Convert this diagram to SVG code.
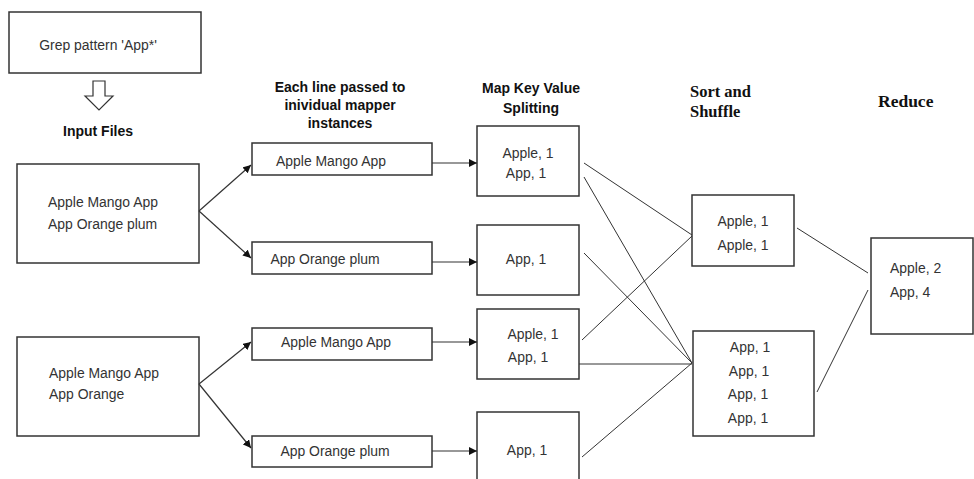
<svg xmlns="http://www.w3.org/2000/svg" width="974" height="479" viewBox="0 0 974 479">
<style>
.box{fill:#fff;stroke:#333;stroke-width:1.5}
.t{font-family:"Liberation Sans",Arial,sans-serif;font-size:15px;fill:#333}
.h{font-family:"Liberation Sans",Arial,sans-serif;font-size:14px;font-weight:bold;fill:#111;text-anchor:middle}
.s{font-family:"Liberation Serif","Times New Roman",serif;font-weight:bold;fill:#111}
.c{text-anchor:middle}
.ln{stroke:#333;stroke-width:1;fill:none}
.ar{stroke:#333;stroke-width:1.2;fill:none;marker-end:url(#ah)}
</style>
<defs>
<marker id="ah" viewBox="0 0 10 10" refX="10" refY="5" markerWidth="8" markerHeight="8" markerUnits="userSpaceOnUse" orient="auto">
<path d="M0,0 L10,5 L0,10 z" fill="#111"/>
</marker>
</defs>
<rect width="974" height="479" fill="#fff"/>

<g id="headers">
<text class="h" x="340" y="92">Each line passed to</text>
<text class="h" x="340" y="110">inividual mapper</text>
<text class="h" x="340" y="128">instances</text>
<text class="h" x="531" y="93">Map Key Value</text>
<text class="h" x="531" y="113">Splitting</text>
<text class="s" x="690" y="97" font-size="16.5">Sort and</text>
<text class="s" x="690" y="117" font-size="16.5">Shuffle</text>
<text class="s" x="878" y="107" font-size="17.5">Reduce</text>
</g>

<g id="grep">
<rect class="box" x="9" y="12" width="192" height="61"/>
<text class="t c" transform="translate(98,50) scale(.93,1)">Grep pattern 'App*'</text>
</g>
<g id="down-arrow">
<path d="M93,81 L105,81 L105,96 L113,96 L99,110 L85,96 L93,96 Z" fill="#fff" stroke="#333" stroke-width="1.2"/>
</g>
<g id="input-label">
<text class="h" x="98" y="136" font-size="15">Input Files</text>
</g>

<g id="input1">
<rect class="box" x="17" y="164" width="182" height="99"/>
<text class="t" transform="translate(48,207) scale(.93,1)">Apple Mango App</text>
<text class="t" transform="translate(48,229) scale(.93,1)">App Orange plum</text>
</g>
<g id="input2">
<rect class="box" x="17" y="337" width="182" height="99"/>
<text class="t" transform="translate(49,378) scale(.93,1)">Apple Mango App</text>
<text class="t" transform="translate(49,399) scale(.93,1)">App Orange</text>
</g>

<g id="mapper1">
<rect class="box" x="252" y="143" width="180" height="32"/>
<text class="t c" transform="translate(331,166) scale(.93,1)">Apple Mango App</text>
</g>
<g id="mapper2">
<rect class="box" x="252" y="242" width="180" height="32"/>
<text class="t c" transform="translate(325,264) scale(.93,1)">App Orange plum</text>
</g>
<g id="mapper3">
<rect class="box" x="252" y="328" width="180" height="32"/>
<text class="t c" transform="translate(336,347) scale(.93,1)">Apple Mango App</text>
</g>
<g id="mapper4">
<rect class="box" x="252" y="436" width="180" height="31"/>
<text class="t c" transform="translate(335,456) scale(.93,1)">App Orange plum</text>
</g>

<g id="map1">
<rect class="box" x="477" y="126" width="102" height="70"/>
<text class="t c" transform="translate(528,158) scale(.93,1)">Apple, 1</text>
<text class="t c" transform="translate(526,178) scale(.93,1)">App, 1</text>
</g>
<g id="map2">
<rect class="box" x="477" y="225" width="102" height="70"/>
<text class="t c" transform="translate(526,264) scale(.93,1)">App, 1</text>
</g>
<g id="map3">
<rect class="box" x="477" y="309" width="102" height="70"/>
<text class="t c" transform="translate(533,339) scale(.93,1)">Apple, 1</text>
<text class="t c" transform="translate(528,362) scale(.93,1)">App, 1</text>
</g>
<g id="map4">
<rect class="box" x="477" y="412" width="102" height="70"/>
<text class="t c" transform="translate(527,455) scale(.93,1)">App, 1</text>
</g>

<g id="sort1">
<rect class="box" x="692" y="195" width="102" height="71"/>
<text class="t c" transform="translate(743,226) scale(.93,1)">Apple, 1</text>
<text class="t c" transform="translate(743,250) scale(.93,1)">Apple, 1</text>
</g>
<g id="sort2">
<rect class="box" x="693" y="331" width="121" height="105"/>
<text class="t c" transform="translate(750,352) scale(.93,1)">App, 1</text>
<text class="t c" transform="translate(749,376) scale(.93,1)">App, 1</text>
<text class="t c" transform="translate(748,399) scale(.93,1)">App, 1</text>
<text class="t c" transform="translate(748,423) scale(.93,1)">App, 1</text>
</g>

<g id="reduce">
<rect class="box" x="871" y="238" width="102" height="96"/>
<text class="t" transform="translate(890,273) scale(.93,1)">Apple, 2</text>
<text class="t" transform="translate(890,297) scale(.93,1)">App, 4</text>
</g>

<g id="connectors">
<line class="ar" x1="199" y1="211" x2="251" y2="165"/>
<line class="ar" x1="199" y1="211" x2="251" y2="258"/>
<line class="ar" x1="199" y1="384" x2="251" y2="342"/>
<line class="ar" x1="199" y1="384" x2="251" y2="448"/>
<line class="ar" x1="432" y1="163" x2="477" y2="163"/>
<line class="ar" x1="432" y1="262" x2="477" y2="262"/>
<line class="ar" x1="432" y1="342" x2="477" y2="342"/>
<line class="ar" x1="432" y1="451" x2="477" y2="451"/>
<line class="ln" x1="584" y1="163" x2="692" y2="235"/>
<line class="ln" x1="584" y1="177" x2="692" y2="363"/>
<line class="ln" x1="584" y1="253" x2="692" y2="363"/>
<line class="ln" x1="582" y1="340" x2="692" y2="236"/>
<line class="ln" x1="579" y1="364" x2="692" y2="364"/>
<line class="ln" x1="582" y1="457" x2="692" y2="363"/>
<line class="ln" x1="797" y1="228" x2="868" y2="273"/>
<line class="ln" x1="817" y1="392" x2="868" y2="290"/>
</g>
</svg>
